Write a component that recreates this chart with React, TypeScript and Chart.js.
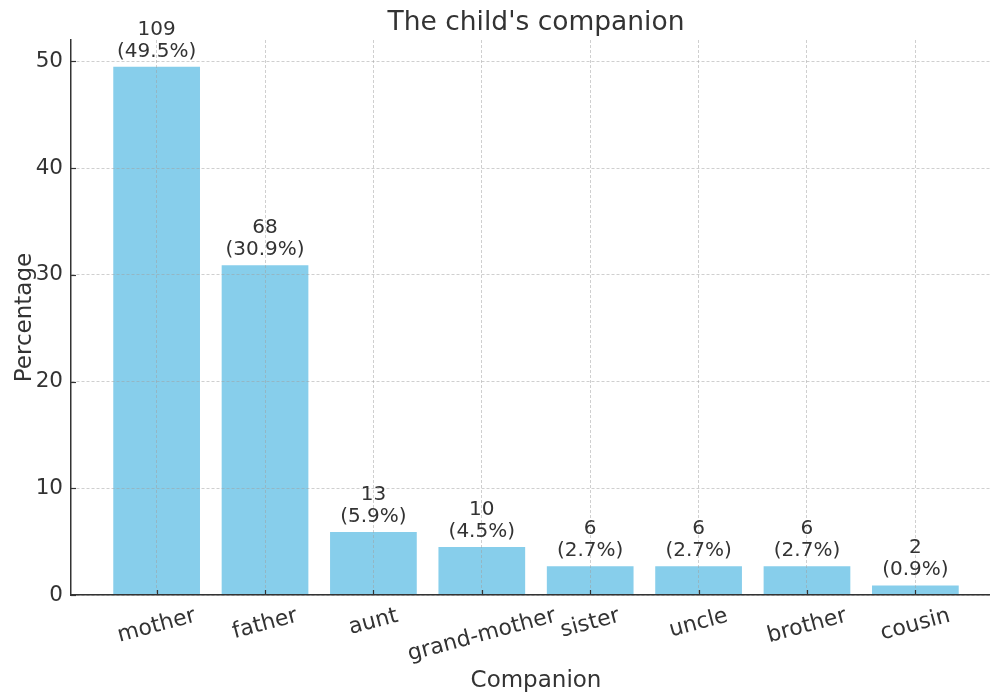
import React, { useEffect, useRef } from "react";
import { Chart, registerables } from "chart.js";

Chart.register(...registerables);

const TITLE = "The child's companion";
const X_TITLE = "Companion";
const Y_TITLE = "Percentage";
const categories = ["mother", "father", "aunt", "grand-mother", "sister", "uncle", "brother", "cousin"];
const counts = [109, 68, 13, 10, 6, 6, 6, 2];
const percentages = [49.5, 30.9, 5.9, 4.5, 2.7, 2.7, 2.7, 0.9];
const Y_MAX = 52;
const Y_STEP = 10;

const FONT = "'DejaVu Sans', sans-serif";
const TEXT = "#333333";
const AXIS = "#333333";
const GRID = "rgba(160,160,160,0.5)";
const BAR = "#87CEEB";

const overlay = {
  id: "overlay",
  afterDraw(chart: any) {
    const { ctx, chartArea, scales } = chart;
    const xs = scales.x;
    const ys = scales.y;
    ctx.save();
    // title
    ctx.fillStyle = TEXT;
    ctx.font = `26.5px ${FONT}`;
    ctx.textAlign = "center";
    ctx.textBaseline = "alphabetic";
    ctx.fillText(TITLE, (chartArea.left + chartArea.right) / 2, 30);

    // inward tick marks
    ctx.strokeStyle = AXIS;
    ctx.lineWidth = 1.2;
    ctx.setLineDash([]);
    xs.ticks.forEach((t: any) => {
      const x = Math.round(xs.getPixelForValue(t.value)) + 0.5;
      ctx.beginPath();
      ctx.moveTo(x, chartArea.bottom);
      ctx.lineTo(x, chartArea.bottom - 5);
      ctx.stroke();
    });
    ys.ticks.forEach((t: any) => {
      const y = Math.round(ys.getPixelForValue(t.value)) + 0.5;
      ctx.beginPath();
      ctx.moveTo(chartArea.left, y);
      ctx.lineTo(chartArea.left + 5, y);
      ctx.stroke();
    });

    // bar labels
    const meta = chart.getDatasetMeta(0);
    ctx.font = `20px ${FONT}`;
    ctx.fillStyle = TEXT;
    ctx.textAlign = "center";
    ctx.textBaseline = "alphabetic";
    meta.data.forEach((bar: any, i: number) => {
      ctx.fillText(String(counts[i]), bar.x, bar.y - 32);
      ctx.fillText(`(${percentages[i].toFixed(1)}%)`, bar.x, bar.y - 10);
    });

    // x tick labels, rotated 15 degrees, centered on tick
    ctx.font = `22px ${FONT}`;
    const ang = (15 * Math.PI) / 180;
    categories.forEach((c, i) => {
      const x = xs.getPixelForValue(i);
      const w = ctx.measureText(c).width;
      const cy = chartArea.bottom + 10 + (w * Math.sin(ang) + 22 * Math.cos(ang)) / 2;
      ctx.save();
      ctx.translate(x, cy);
      ctx.rotate(-ang);
      ctx.textAlign = "center";
      ctx.textBaseline = "middle";
      ctx.fillText(c, 0, 0);
      ctx.restore();
    });
    ctx.restore();
  },
};

export default function App() {
  const ref = useRef<HTMLCanvasElement | null>(null);
  useEffect(() => {
    if (!ref.current) return;
    const chart = new Chart(ref.current, {
      type: "bar",
      data: {
        datasets: [
          {
            data: categories.map((_, i) => ({ x: i, y: percentages[i] })),
            backgroundColor: BAR,
            borderWidth: 0,
            barPercentage: 0.8,
            categoryPercentage: 1,
          },
        ],
      },
      options: {
        responsive: false,
        devicePixelRatio: 1,
        animation: false,
        layout: { padding: { top: 40, left: 0, right: 0, bottom: 0 } },
        plugins: { legend: { display: false }, tooltip: { enabled: false }, title: { display: false } },
        scales: {
          x: {
            type: "linear",
            offset: false,
            min: -0.79,
            max: 7.79,
            ticks: { display: false, stepSize: 1, includeBounds: false },
            grid: { color: GRID, lineWidth: 1, drawTicks: false, offset: false, z: 1 },
            border: { display: true, color: AXIS, width: 1.5, dash: [3, 2], z: 2 },
            title: {
              display: true,
              text: X_TITLE,
              color: TEXT,
              font: { family: FONT, size: 23, lineHeight: 1.1 },
              padding: { top: 0, bottom: 0 },
            },
            afterFit: (s: any) => {
              s.height = 99;
            },
          },
          y: {
            min: 0,
            max: Y_MAX,
            ticks: {
              stepSize: Y_STEP,
              includeBounds: false,
              padding: 8,
              color: TEXT,
              font: { family: FONT, size: 21.5 },
            },
            grid: { color: GRID, lineWidth: 1, drawTicks: false, z: 1 },
            border: { display: true, color: AXIS, width: 1.5, dash: [3, 2], z: 2 },
            title: {
              display: true,
              text: Y_TITLE,
              color: TEXT,
              font: { family: FONT, size: 23 },
              padding: { top: 11, bottom: 0 },
            },
            afterFit: (s: any) => {
              s.width = 71;
            },
          },
        },
      } as any,
      plugins: [overlay],
    });
    return () => chart.destroy();
  }, []);

  return (
    <div
      style={{
        position: "fixed",
        left: 0,
        top: 0,
        width: 990,
        height: 694,
        overflow: "hidden",
        background: "#ffffff",
      }}
    >
      <canvas ref={ref} width={1001} height={694} style={{ display: "block", width: 1001, height: 694 }} />
    </div>
  );
}
